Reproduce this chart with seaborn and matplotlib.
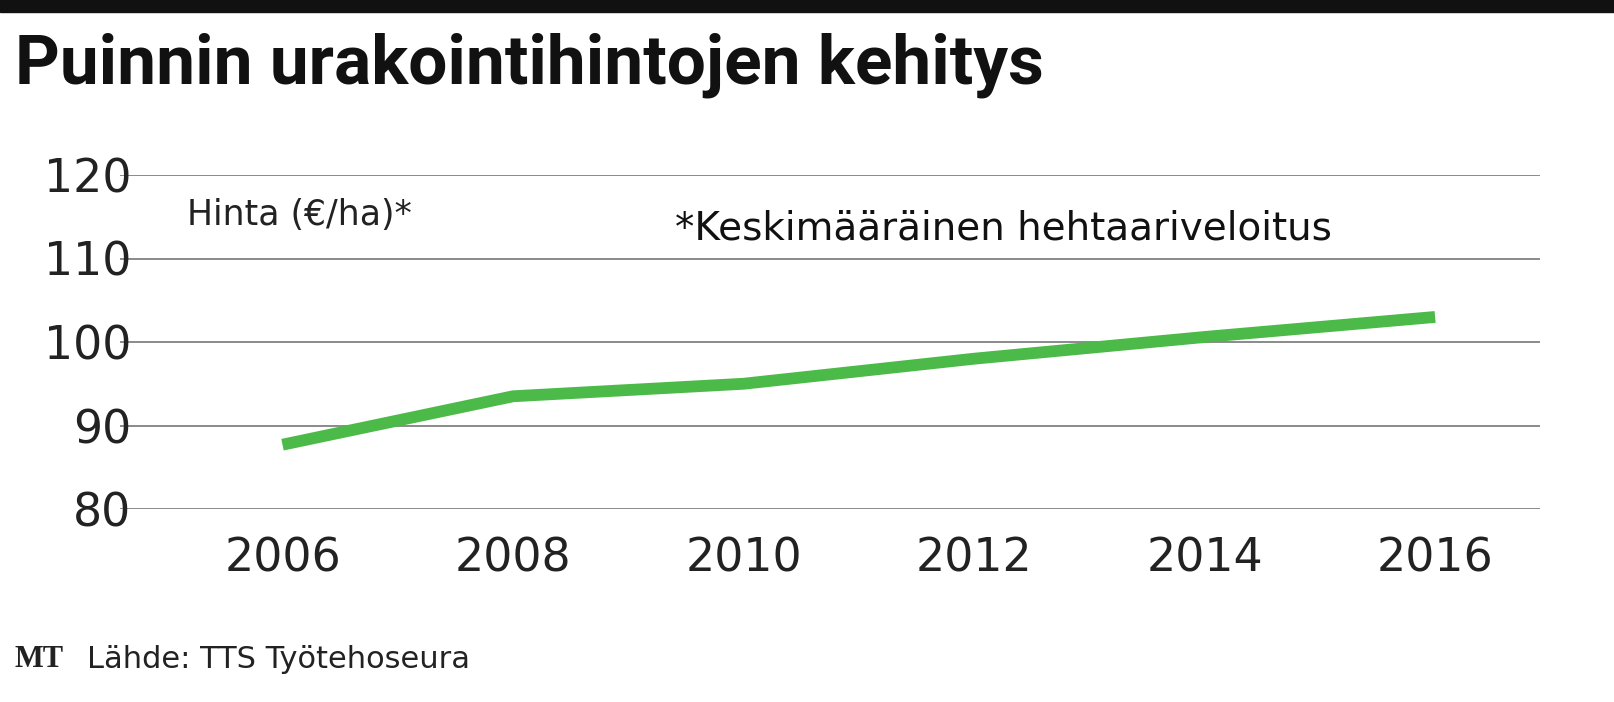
import matplotlib
matplotlib.use("Agg")
import matplotlib.pyplot as plt
import seaborn as sns
import pandas as pd

years = [2006, 2008, 2010, 2012, 2014, 2016]
prices = [87.7, 93.5, 95.0, 98.0, 100.6, 103.0]
yticks = [80, 90, 100, 110, 120]

sns.set_style("white")
plt.rcParams["font.family"] = ["DejaVu Sans"]

df = pd.DataFrame({"year": years, "price": prices})

fig = plt.figure(figsize=(16.14, 7.02), dpi=100)
ax = fig.add_axes([120 / 1614, 1 - 509 / 702, 1420 / 1614, 334 / 702])

sns.lineplot(data=df, x="year", y="price", ax=ax, color="#4cba48", linewidth=8.5,
             solid_capstyle="butt")

ax.set_xlim(2004.59, 2016.91)
ax.set_ylim(80, 120)
ax.set_yticks(yticks)
ax.set_xticks(years)
ax.yaxis.grid(True, color="#8a8a8a", linewidth=1.4)
ax.set_axisbelow(True)
for s in ax.spines.values():
    s.set_visible(False)
ax.tick_params(axis="both", length=0, labelsize=33, colors="#222222")
ax.tick_params(axis="y", pad=-8)
ax.tick_params(axis="x", pad=20)
ax.set_xlabel("")
ax.set_ylabel("")

ax.text(0.047, 0.88, "Hinta (€/ha)*", transform=ax.transAxes, fontsize=25,
        color="#222222", va="center")
ax.text(0.391, 0.84, "*Keskimääräinen hehtaariveloitus", transform=ax.transAxes,
        fontsize=28, color="#111111", va="center")

# header bar and title
fig.patches.append(plt.Rectangle((0, 0.983), 1, 0.017, transform=fig.transFigure,
                                 color="#111111", zorder=5))
fig.text(0.009, 0.907, "Puinnin urakointihintojen kehitys", fontsize=50,
         fontweight="bold", color="#111111", va="center", family=["Roboto", "DejaVu Sans"])

# footer
fig.text(0.009, 0.06, "MT", fontsize=22, fontweight="bold", family=["Liberation Serif"],
         color="#222222", va="center")
fig.text(0.054, 0.06, "Lähde: TTS Työtehoseura", fontsize=22, color="#222222", va="center")

fig.savefig("out.png", dpi=100)
